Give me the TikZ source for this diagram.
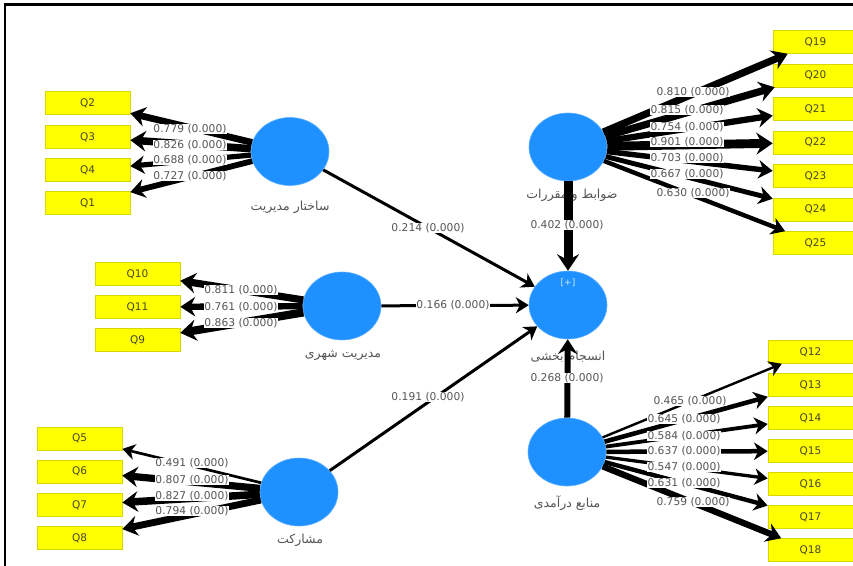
\documentclass[tikz,border=0pt]{standalone}
\usepackage{fontspec}
\setmainfont{DejaVu Sans}
\newfontfamily\fafont[Script=Arabic]{DejaVu Sans}
\TeXXeTstate=1
\usetikzlibrary{shapes.geometric,arrows.meta}
\definecolor{lvblue}{RGB}{30,144,255}
\definecolor{qyellow}{RGB}{255,255,0}
\definecolor{qedge}{RGB}{215,215,0}
\definecolor{lblgray}{RGB}{85,85,85}
\definecolor{qtext}{RGB}{70,70,40}
\tikzset{
  lv/.style={ellipse, fill=lvblue, draw=lvblue!70!white, line width=0.6pt, minimum width=78pt, minimum height=68pt, inner sep=0pt},
  mv/.style={rectangle, fill=qyellow, draw=qedge, line width=0.6pt, minimum width=85pt, minimum height=23pt, inner sep=0pt, font=\fontsize{10.5}{12}\selectfont, text=qtext},
  ld/.style={line width=#1, -{Stealth[length=11pt 0.6, width=13pt 1, inset=3pt 0.3]}},
  val/.style={fill=white, inner sep=0.5pt, font=\fontsize{10.7}{12}\selectfont, text=lblgray},
  faname/.style={inner sep=1pt, font=\fontsize{12.5}{14}\fafont, text=lblgray},
}
\begin{document}
\begin{tikzpicture}[x=1pt,y=-1pt]
\useasboundingbox (0,0) rectangle (853,565);
% frame
\draw[line width=2.5pt] (5,566) -- (5,4.5) -- (854,4.5);

% latent variables
\node[lv] (c1) at (290,151.5) {};
\node[lv] (c2) at (342,306) {};
\node[lv] (c3) at (299,492) {};
\node[lv] (c4) at (568,147) {};
\node[lv] (c5) at (568,305) {};
\node[lv] (c6) at (567,452) {};
\node[inner sep=0pt, font=\fontsize{9}{10}\selectfont, text=white!80!lvblue] (plus) at (568,283) {[+]};

% names
\node[faname] (n1) at (290,207) {\beginR ساختار مدیریت\endR};
\node[faname] (n2) at (343,355) {\beginR مدیریت شهری\endR};
\node[faname] (n3) at (300,540) {\beginR مشارکت\endR};
\node[faname] (n4) at (572,195) {\beginR ضوابط و مقررات\endR};
\node[faname] (n5) at (568,357) {\beginR انسجام بخشی\endR};
\node[faname] (n6) at (567,503) {\beginR منابع درآمدی\endR};

% indicators
\node[mv] (q2) at (87.5,103) {Q2};
\node[mv] (q3) at (87.5,137) {Q3};
\node[mv] (q4) at (87.5,170) {Q4};
\node[mv] (q1) at (87.5,203) {Q1};
\node[mv] (q10) at (137.5,274) {Q10};
\node[mv] (q11) at (137.5,307) {Q11};
\node[mv] (q9) at (137.5,340) {Q9};
\node[mv] (q5) at (79.5,438.5) {Q5};
\node[mv] (q6) at (79.5,471.5) {Q6};
\node[mv] (q7) at (79.5,505) {Q7};
\node[mv] (q8) at (79.5,538) {Q8};
\node[mv] (q19) at (815.5,42) {Q19};
\node[mv] (q20) at (815.5,75.5) {Q20};
\node[mv] (q21) at (815.5,109) {Q21};
\node[mv] (q22) at (815.5,142.5) {Q22};
\node[mv] (q23) at (815.5,176) {Q23};
\node[mv] (q24) at (815.5,209.5) {Q24};
\node[mv] (q25) at (815.5,243) {Q25};
\node[mv] (q12) at (810.5,352) {Q12};
\node[mv] (q13) at (810.5,385) {Q13};
\node[mv] (q14) at (810.5,418) {Q14};
\node[mv] (q15) at (810.5,451) {Q15};
\node[mv] (q16) at (810.5,484) {Q16};
\node[mv] (q17) at (810.5,517) {Q17};
\node[mv] (q18) at (810.5,550) {Q18};

% loadings
\draw[ld=6.7pt] (c1) -- (q2);
\draw[ld=7.5pt] (c1) -- (q3);
\draw[ld=5.2pt] (c1) -- (q4);
\draw[ld=5.8pt] (c1) -- (q1);
\draw[ld=7.2pt] (c2) -- (q10);
\draw[ld=6.4pt] (c2) -- (q11);
\draw[ld=8.2pt] (c2) -- (q9);
\draw[ld=2.7pt] (c3) -- (q5);
\draw[ld=7.2pt] (c3) -- (q6);
\draw[ld=7.5pt] (c3) -- (q7);
\draw[ld=6.9pt] (c3) -- (q8);
\draw[ld=7.2pt] (c4) -- (q19);
\draw[ld=7.3pt] (c4) -- (q20);
\draw[ld=6.3pt] (c4) -- (q21);
\draw[ld=8.9pt] (c4) -- (q22);
\draw[ld=5.4pt] (c4) -- (q23);
\draw[ld=4.9pt] (c4) -- (q24);
\draw[ld=4.4pt] (c4) -- (q25);
\draw[ld=2.4pt] (c6) -- (q12);
\draw[ld=4.6pt] (c6) -- (q13);
\draw[ld=3.8pt] (c6) -- (q14);
\draw[ld=4.5pt] (c6) -- (q15);
\draw[ld=3.3pt] (c6) -- (q16);
\draw[ld=4.4pt] (c6) -- (q17);
\draw[ld=6.3pt] (c6) -- (q18);

% structural paths
\draw[ld=3pt] (c1) -- (c5);
\draw[ld=3pt] (c2) -- (c5);
\draw[ld=3pt] (c3) -- (c5);
\draw[ld=9pt] (c4) -- (c5);
\draw[ld=6pt] (c6) -- (c5);

% loading values
\node[val] (v2) at (190,129) {0.779 (0.000)};
\node[val] (v3) at (190,145) {0.826 (0.000)};
\node[val] (v4) at (190,160) {0.688 (0.000)};
\node[val] (v1) at (190,176) {0.727 (0.000)};
\node[val] (v10) at (241,290) {0.811 (0.000)};
\node[val] (v11) at (241,307) {0.761 (0.000)};
\node[val] (v9) at (241,323) {0.863 (0.000)};
\node[val] (v5) at (192,463) {0.491 (0.000)};
\node[val] (v6) at (192,480) {0.807 (0.000)};
\node[val] (v7) at (192,496) {0.827 (0.000)};
\node[val] (v8) at (192,511) {0.794 (0.000)};
\node[val] (v19) at (693,92) {0.810 (0.000)};
\node[val] (v20) at (687,110) {0.815 (0.000)};
\node[val] (v21) at (687,127) {0.754 (0.000)};
\node[val] (v22) at (687,142) {0.901 (0.000)};
\node[val] (v23) at (687,158) {0.703 (0.000)};
\node[val] (v24) at (687,174) {0.667 (0.000)};
\node[val] (v25) at (693,193) {0.630 (0.000)};
\node[val] (v12) at (690,401) {0.465 (0.000)};
\node[val] (v13) at (684,419) {0.645 (0.000)};
\node[val] (v14) at (684,436) {0.584 (0.000)};
\node[val] (v15) at (684,451) {0.637 (0.000)};
\node[val] (v16) at (684,467) {0.547 (0.000)};
\node[val] (v17) at (684,483) {0.631 (0.000)};
\node[val] (v18) at (693,502) {0.759 (0.000)};

% path values
\node[val] (p1) at (428,228) {0.214 (0.000)};
\node[val] (p2) at (453,305) {0.166 (0.000)};
\node[val] (p3) at (428,397) {0.191 (0.000)};
\node[val] (p4) at (567,225) {0.402 (0.000)};
\node[val] (p6) at (567,378) {0.268 (0.000)};
\end{tikzpicture}
\end{document}
